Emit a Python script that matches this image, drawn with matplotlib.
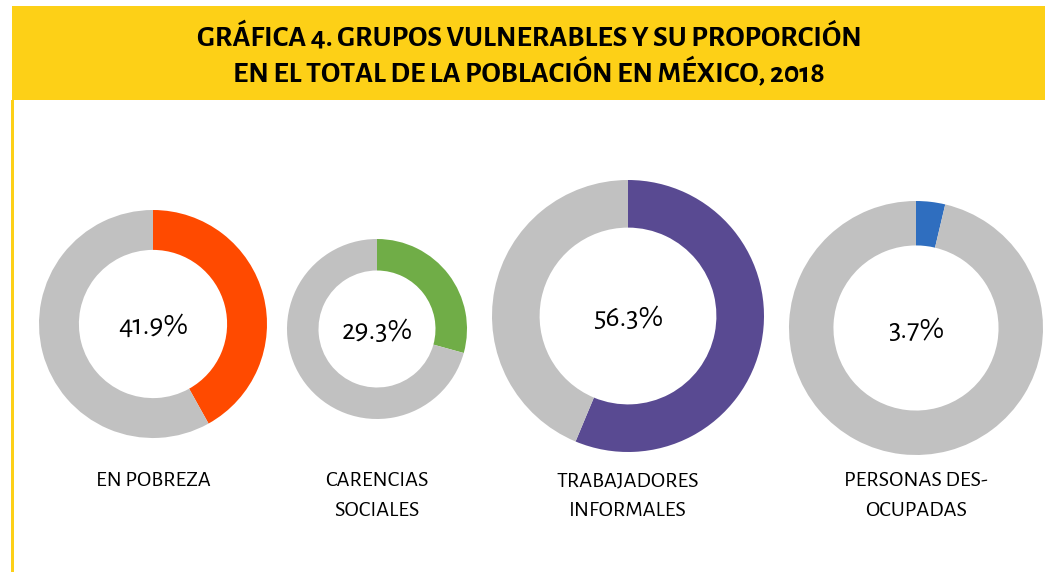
import matplotlib.pyplot as plt
from matplotlib.patches import Rectangle

# data
groups = ['EN POBREZA', 'CARENCIAS\nSOCIALES', 'TRABAJADORES\nINFORMALES', 'PERSONAS DES-\nOCUPADAS']
shares = [41.9, 29.3, 56.3, 3.7]
colors = ['#FF4A00', '#70AD47', '#594A92', '#2F6EBF']
rest_color = '#C1C1C1'
title = 'GRÁFICA 4. GRUPOS VULNERABLES Y SU PROPORCIÓN\nEN EL TOTAL DE LA POBLACIÓN EN MÉXICO, 2018'

# layout (pixels, y from top)
W, H = 1045, 572
centers_x = [153, 377, 628, 916]
centers_y = [324, 329, 316, 328]
radii = [114, 90, 136, 127]
label_y = 471
yellow = '#FDD017'
fam = ['Alegreya Sans', 'DejaVu Sans']

fig = plt.figure(figsize=(W / 100, H / 100), dpi=100)
ax = fig.add_axes([0, 0, 1, 1])
ax.set_xlim(0, W)
ax.set_ylim(0, H)
ax.set_aspect('equal')
ax.axis('off')

# banner + left rule
ax.add_patch(Rectangle((12, H - 100), W - 12, 94, color=yellow, lw=0))
ax.add_patch(Rectangle((11, 0), 2.5, H - 100, color=yellow, lw=0))
ax.text(529, H - 54, title, ha='center', va='center', fontsize=21.5, fontweight='bold',
        linespacing=1.2, family=fam, color='black')

for g, v, c, cx, cy, r in zip(groups, shares, colors, centers_x, centers_y, radii):
    ax.pie([v, 100 - v], colors=[c, rest_color], startangle=90, counterclock=False,
           center=(cx, H - cy), radius=r, wedgeprops=dict(width=r * 0.35, linewidth=0))
    ax.text(cx, H - cy - 2, f'{v}%', ha='center', va='center', fontsize=21.5, family=fam)
    ax.text(cx, H - label_y, g, ha='center', va='top', fontsize=16, linespacing=1.7, family=fam)

ax.set_xlim(0, W)
ax.set_ylim(0, H)
fig.savefig('out.png', dpi=100, facecolor='white')
